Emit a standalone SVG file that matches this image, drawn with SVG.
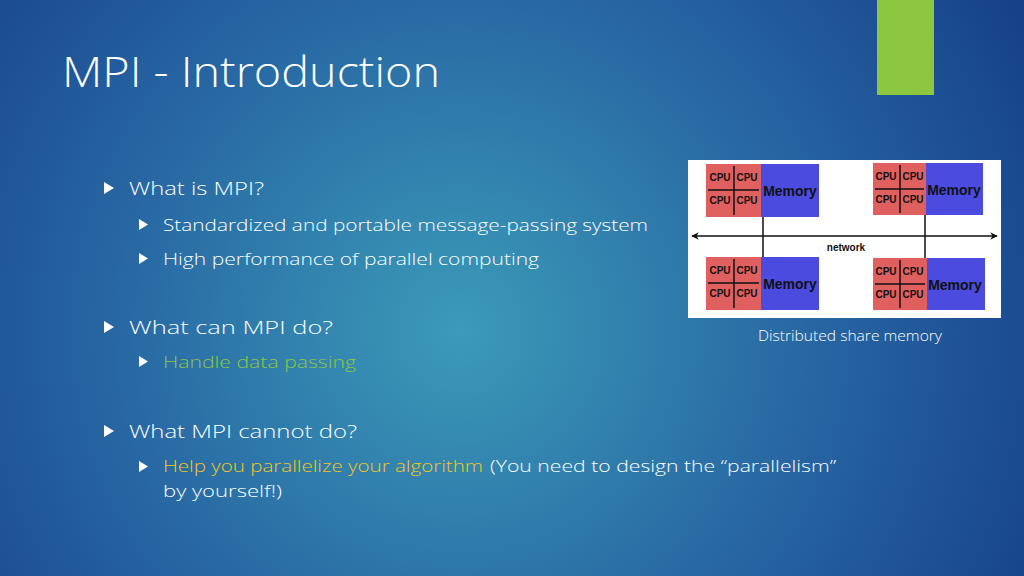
<svg xmlns="http://www.w3.org/2000/svg" width="1024" height="576" viewBox="0 0 1024 576">
<defs>
<radialGradient id="bg" cx="460" cy="330" r="640" gradientUnits="userSpaceOnUse">
<stop offset="0" stop-color="#3b9bb8"/>
<stop offset="0.55" stop-color="#2766a3"/>
<stop offset="1" stop-color="#16428a"/>
</radialGradient>
<marker id="ah" viewBox="0 0 10 10" refX="9" refY="5" markerWidth="5" markerHeight="5" orient="auto-start-reverse"><path d="M0,0L10,5L0,10L3,5z" fill="#111"/></marker>
</defs>
<style>
.t{font-family:"Open Sans","Liberation Sans",sans-serif;fill:#fff;font-weight:300}
.c{font-family:"Liberation Sans",sans-serif;font-weight:bold;font-size:10px;fill:#111;text-anchor:middle}
.m{font-family:"Liberation Sans",sans-serif;font-weight:bold;font-size:14px;fill:#111;text-anchor:middle}
.cpu{fill:#e06060}.mem{fill:#4b4be0}.ln{stroke:#111;stroke-width:1.5}
.b{fill:#fff}
</style>
<rect width="1024" height="576" fill="url(#bg)"/>
<rect x="877" y="0" width="57" height="95" fill="#8dc63f"/>
<text class="t" x="62" y="87" font-size="42" textLength="378" lengthAdjust="spacingAndGlyphs">MPI - Introduction</text>
<g class="t">
<path class="b" d="M104,182l10,6l-10,6z"/><text x="129" y="195" font-size="18" textLength="135" lengthAdjust="spacingAndGlyphs">What is MPI?</text>
<path class="b" d="M139,219l9,5.5l-9,5.5z"/><text x="163" y="231" font-size="17" textLength="485" lengthAdjust="spacingAndGlyphs">Standardized and portable message-passing system</text>
<path class="b" d="M139,253l9,5.5l-9,5.5z"/><text x="163" y="265" font-size="17" textLength="376" lengthAdjust="spacingAndGlyphs">High performance of parallel computing</text>
<path class="b" d="M104,321l10,6l-10,6z"/><text x="129" y="334" font-size="18" textLength="204" lengthAdjust="spacingAndGlyphs">What can MPI do?</text>
<path class="b" d="M139,356l9,5.5l-9,5.5z"/><text x="163" y="368" font-size="17" style="fill:#8dc63f" textLength="193" lengthAdjust="spacingAndGlyphs">Handle data passing</text>
<path class="b" d="M104,425l10,6l-10,6z"/><text x="129" y="438" font-size="18" textLength="228" lengthAdjust="spacingAndGlyphs">What MPI cannot do?</text>
<path class="b" d="M139,461l9,5.5l-9,5.5z"/><text x="163" y="472" font-size="17" style="fill:#f5c518" textLength="320" lengthAdjust="spacingAndGlyphs">Help you parallelize your algorithm</text>
<text x="490" y="472" font-size="17" textLength="346" lengthAdjust="spacingAndGlyphs">(You need to design the “parallelism”</text>
<text x="163" y="497" font-size="17" textLength="119" lengthAdjust="spacingAndGlyphs">by yourself!)</text>
<text x="758" y="341" font-size="14" textLength="184" lengthAdjust="spacingAndGlyphs">Distributed share memory</text>
</g>
<rect x="688" y="160" width="313" height="158" fill="#fff"/>
<g id="connectors">
<line class="ln" x1="692" y1="236" x2="997" y2="236" marker-start="url(#ah)" marker-end="url(#ah)"/>
<line class="ln" x1="763" y1="217" x2="763" y2="257"/>
<line class="ln" x1="925" y1="215" x2="925" y2="258"/>
<text class="c" x="846" y="251" font-size="13">network</text>
</g>
<g id="node1"><rect class="cpu" x="706" y="164" width="55" height="53"/><rect class="mem" x="761" y="164" width="58" height="53"/><path class="ln" d="M734,166v49M708,190h51" stroke-width="1"/><text class="c" x="720" y="181">CPU</text><text class="c" x="747" y="181">CPU</text><text class="c" x="720" y="204">CPU</text><text class="c" x="747" y="204">CPU</text><text class="m" x="790" y="196">Memory</text></g>
<g id="node2"><rect class="cpu" x="873" y="163" width="53" height="52"/><rect class="mem" x="926" y="163" width="57" height="52"/><path class="ln" d="M900,165v48M875,189h49" stroke-width="1"/><text class="c" x="886" y="180">CPU</text><text class="c" x="913" y="180">CPU</text><text class="c" x="886" y="203">CPU</text><text class="c" x="913" y="203">CPU</text><text class="m" x="954" y="195">Memory</text></g>
<g id="node3"><rect class="cpu" x="706" y="257" width="55" height="53"/><rect class="mem" x="761" y="257" width="58" height="53"/><path class="ln" d="M734,259v49M708,283h51" stroke-width="1"/><text class="c" x="720" y="274">CPU</text><text class="c" x="747" y="274">CPU</text><text class="c" x="720" y="297">CPU</text><text class="c" x="747" y="297">CPU</text><text class="m" x="790" y="289">Memory</text></g>
<g id="node4"><rect class="cpu" x="873" y="258" width="54" height="52"/><rect class="mem" x="927" y="258" width="58" height="52"/><path class="ln" d="M900,260v48M875,284h50" stroke-width="1"/><text class="c" x="886" y="275">CPU</text><text class="c" x="913" y="275">CPU</text><text class="c" x="886" y="298">CPU</text><text class="c" x="913" y="298">CPU</text><text class="m" x="955" y="290">Memory</text></g>
</svg>
